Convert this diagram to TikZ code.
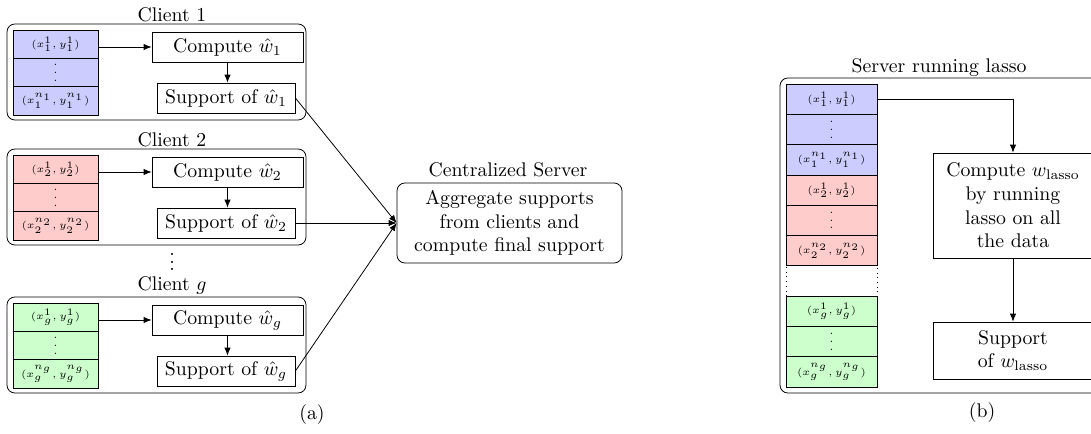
\documentclass[tikz,border=0pt]{standalone}
\usepackage{amsmath}
\usetikzlibrary{arrows.meta}
\def\pxu{0.506pt}
\newcommand\dvdots{\vbox{\baselineskip4pt\lineskiplimit0pt\hbox{.}\hbox{.}\hbox{.}}}
\newcommand\cellfont{\fontsize{5.5}{6}\selectfont}
\begin{document}
\begin{tikzpicture}[x=\pxu,y=-\pxu,
  every node/.style={inner sep=0pt},
  cell/.style={draw, minimum width=85*\pxu, minimum height=28.4*\pxu, font=\cellfont},
  bcell/.style={draw, minimum width=91*\pxu, minimum height=30.3*\pxu, font=\cellfont},
  box/.style={draw, fill=white, minimum height=30*\pxu},
  group/.style={draw, rounded corners=4pt},
  ttl/.style={anchor=south},
  arr/.style={-{Latex[length=4pt,width=3.2pt]}}]
\useasboundingbox (0,0) rectangle (1091,434);
\clip (0,0) rectangle (1091,434);

% ---------- panel (a) ----------
\foreach \k/\off/\col/\lab/\sub in {1/0/blue/1/1, 2/125/red/2/2, g/273/green/$g$/g}{
  \node[group, minimum width=299*\pxu, minimum height=96*\pxu] (cl\k) at (156.5,72+\off) {};
  \node[ttl] (tl\k) at (172,22+\off) {Client \lab};
  \node[cell, fill=\col!20] (d\k a) at (55.5,44.2+\off) {$(x_{\sub}^{1}, y_{\sub}^{1})$};
  \node[cell, fill=\col!20] (d\k b) at (55.5,72.5+\off) {\dvdots};
  \node[cell, fill=\col!20] (d\k c) at (55.5,100.8+\off) {$(x_{\sub}^{n_{\sub}}, y_{\sub}^{n_{\sub}})$};
  \node[box, minimum width=151*\pxu] (cp\k) at (227.5,47+\off) {Compute $\hat{w}_{\sub}$};
  \node[box, minimum width=138*\pxu] (sp\k) at (226,98+\off) {Support of $\hat{w}_{\sub}$};
  \draw[arr] (d\k a.east |- cp\k.west) -- (cp\k.west);
  \draw[arr] (cp\k.south) -- (cp\k.south |- sp\k.north);
}
\node (vd) at (172,262) {\dvdots};

\node[group, minimum width=225*\pxu, minimum height=80*\pxu, align=center] (srv) at (509.5,223)
  {Aggregate supports\\from clients and\\compute final support};
\node[ttl] (srvt) at (508,177) {Centralized Server};
\foreach \k in {1,2,g}{\draw[arr] (sp\k.east) -- (srv.west);}

\node (la) at (312,415) {(a)};

% ---------- panel (b) ----------
\node[group, minimum width=320*\pxu, minimum height=315*\pxu] (outb) at (940,235.5) {};
\node[ttl, yshift=-1.9pt] (outbt) at (939,73) {Server running lasso};
\node[bcell, dotted, fill=white] (r6) at (831.5,281) {};
\foreach \i/\y/\col/\txt in {
  0/99.2/blue/{$(x_1^1, y_1^1)$},
  1/129.5/blue/{\dvdots},
  2/159.8/blue/{$(x_1^{n_1}, y_1^{n_1})$},
  3/190.1/red/{$(x_2^1, y_2^1)$},
  4/220.4/red/{\dvdots},
  5/250.7/red/{$(x_2^{n_2}, y_2^{n_2})$},
  7/311.3/green/{$(x_g^1, y_g^1)$},
  8/341.6/green/{\dvdots},
  9/371.9/green/{$(x_g^{n_g}, y_g^{n_g})$}}{
  \node[bcell, fill=\col!20] (r\i) at (831.5,\y) {\txt};
}
\node[draw, minimum width=160*\pxu, minimum height=105*\pxu, align=center] (cw) at (1013,205.5)
  {Compute $w_{\text{lasso}}$\\by running\\lasso on all\\the data};
\node[draw, minimum width=160*\pxu, minimum height=57*\pxu, align=center] (sw) at (1013,350.5)
  {Support\\of $w_{\text{lasso}}$};
\draw[arr] (r0.east) -| (cw.north);
\draw[arr] (cw.south) -- (sw.north);

\node (lb) at (982,413) {(b)};
\end{tikzpicture}
\end{document}
